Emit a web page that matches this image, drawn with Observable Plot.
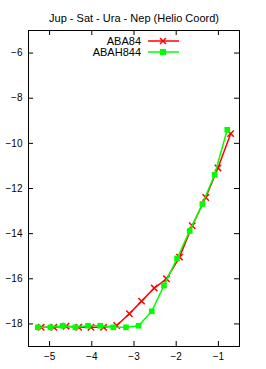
<!DOCTYPE html>
<html>
<head>
<meta charset="utf-8">
<script src="https://cdn.jsdelivr.net/npm/d3@7"></script>
<script src="https://cdn.jsdelivr.net/npm/@observablehq/plot@0.6"></script>
<style>
html,body{margin:0;padding:0;background:#fff;}
</style>
</head>
<body>
<div id="chart"></div>
<script>
const title = "Jup - Sat - Ura - Nep (Helio Coord)";
const seriesNames = ["ABA84", "ABAH844"];

const abaX = [-5.20, -4.90, -4.61, -4.31, -4.02, -3.72, -3.41, -3.11, -2.82, -2.52, -2.23, -1.92, -1.62, -1.30, -1.01, -0.71];
const abaY = [-18.15, -18.15, -18.10, -18.15, -18.15, -18.15, -18.07, -17.55, -16.99, -16.41, -16.00, -15.04, -13.65, -12.40, -11.09, -9.57];

const abahX = [-5.28, -4.98, -4.69, -4.39, -4.09, -3.80, -3.49, -3.19, -2.89, -2.58, -2.29, -1.98, -1.68, -1.38, -1.09, -0.79];
const abahY = [-18.15, -18.15, -18.08, -18.15, -18.08, -18.08, -18.15, -18.15, -18.08, -17.44, -16.30, -15.10, -13.88, -12.69, -11.39, -9.40];

const xTicks = [-5, -4, -3, -2, -1];
const yTicks = [-6, -8, -10, -12, -14, -16, -18];

const aba = abaX.map((x, i) => ({x, y: abaY[i]}));
const abah = abahX.map((x, i) => ({x, y: abahY[i]}));

const W = 266, H = 369;
const mL = 28, mR = 27, mT = 30, mB = 23;
const fw = W - mL - mR, fh = H - mT - mB;
const tl = 5;
const font = "Liberation Sans, Arial, sans-serif";
const red = "#ff0000", green = "#00ff00";

const plot = Plot.plot({
  width: W,
  height: H,
  marginLeft: mL,
  marginRight: mR,
  marginTop: mT,
  marginBottom: mB,
  style: {fontFamily: font, fontSize: "10px", background: "#fff", color: "#000"},
  x: {domain: [-5.5, -0.5]},
  y: {domain: [-19, -5]},
  marks: [
    Plot.axisX(xTicks, {tickSize: 0, tickPadding: 6, label: null, fontSize: 10}),
    Plot.axisY(yTicks, {tickSize: 0, tickPadding: 6, label: null, fontSize: 10}),
    Plot.tickX(xTicks, {x: d => d, insetTop: fh - tl, stroke: "#000"}),
    Plot.tickX(xTicks, {x: d => d, insetBottom: fh - tl, stroke: "#000"}),
    Plot.tickY(yTicks, {y: d => d, insetRight: fw - tl, stroke: "#000"}),
    Plot.tickY(yTicks, {y: d => d, insetLeft: fw - tl, stroke: "#000"}),
    Plot.line(aba, {x: "x", y: "y", stroke: red, strokeWidth: 1.5}),
    Plot.dot(aba, {x: "x", y: "y", symbol: "times", r: 3, stroke: red, strokeWidth: 1.5}),
    Plot.line(abah, {x: "x", y: "y", stroke: green, strokeWidth: 1.5}),
    Plot.dot(abah, {x: "x", y: "y", symbol: "square", r: 3.2, fill: green, stroke: null}),
    Plot.frame({stroke: "#000", strokeWidth: 1}),
    Plot.text([title], {frameAnchor: "top", dy: -16, text: d => d, fontSize: 11, fill: "#000"})
  ]
});

// legend
const svg = d3.select(plot);
const legend = [
  {name: seriesNames[0], color: red, sym: "times", y: 41},
  {name: seriesNames[1], color: green, sym: "square", y: 52}
];
const g = svg.append("g").attr("font-family", font).attr("font-size", 11);
legend.forEach(l => {
  g.append("text").attr("x", 141).attr("y", l.y).attr("dy", "0.35em")
    .attr("text-anchor", "end").attr("fill", "#000").text(l.name);
  g.append("line").attr("x1", 148).attr("x2", 179).attr("y1", l.y).attr("y2", l.y)
    .attr("stroke", l.color).attr("stroke-width", 1.5);
  if (l.sym === "times") {
    g.append("path").attr("d", `M160,${l.y-3}L166,${l.y+3}M160,${l.y+3}L166,${l.y-3}`)
      .attr("stroke", l.color).attr("stroke-width", 1.5);
  } else {
    g.append("rect").attr("x", 160).attr("y", l.y - 3).attr("width", 6).attr("height", 6)
      .attr("fill", l.color);
  }
});

document.getElementById("chart").appendChild(plot);
</script>
</body>
</html>
